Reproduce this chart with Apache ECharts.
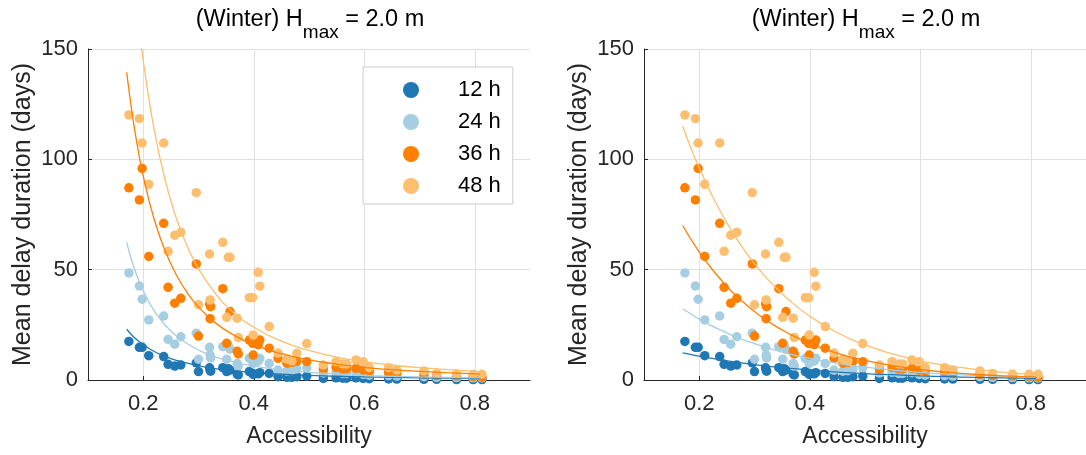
<!DOCTYPE html>
<html>
<head>
<meta charset="utf-8">
<script src="https://cdn.jsdelivr.net/npm/echarts@6/dist/echarts.min.js"></script>
<style>
html,body{margin:0;padding:0;background:#ffffff;}
#chart{width:1086px;height:455px;}
</style>
</head>
<body>
<div id="chart"></div>
<script>
// ---------------- data ----------------
const accessibility = [0.174,0.193,0.198,0.210,0.237,0.245,0.257,0.268,0.296,0.300,0.320,0.321,0.322,0.344,0.351,0.354,0.357,0.370,0.372,0.392,0.398,0.399,0.408,0.411,0.428,0.444,0.460,0.469,0.478,0.496,0.526,0.549,0.561,0.568,0.585,0.598,0.609,0.644,0.659,0.708,0.731,0.767,0.797,0.813];
const delay12h = [17.5,14.8,14.8,11.0,10.6,7.1,6.3,6.8,7.8,3.8,5.5,4.5,4.0,5.6,3.8,5.1,4.5,2.7,2.3,3.8,3.0,2.5,2.8,3.3,3.0,1.5,1.2,1.2,1.5,1.8,0.7,1.0,0.8,0.8,1.0,0.7,0.6,0.5,0.4,0.3,0.3,0.2,0.2,0.2];
const delay24h = [48.5,42.6,36.6,27.2,29.0,18.4,16.2,19.6,21.2,9.4,14.8,11.3,10.0,15.1,9.4,15.4,14.0,7.5,6.3,9.8,9.8,7.5,8.5,9.8,7.5,4.5,4.0,4.2,5.0,5.5,3.2,3.5,3.0,3.0,3.3,2.5,2.2,2.0,1.8,1.5,1.2,1.1,1.0,0.9];
const delay36h = [87.1,81.6,95.9,56.0,71.0,42.0,34.8,37.0,52.6,19.9,34.4,27.8,33.2,41.4,16.6,null,31.0,13.0,11.8,18.1,16.6,11.3,16.0,18.1,14.4,9.8,7.6,8.0,8.5,8.3,4.8,5.7,5.0,5.0,5.3,4.5,4.0,3.5,3.0,2.5,2.0,1.8,1.5,1.3];
const delay48h = [120.1,118.4,107.4,88.7,107.4,58.3,65.6,66.9,84.9,34.1,57.1,36.3,null,62.4,28.4,55.6,55.6,28.0,19.3,37.3,37.3,20.4,48.8,42.5,24.2,12.2,9.4,8.7,12.1,16.5,6.8,8.3,7.3,7.3,9.1,8.3,5.7,5.6,4.5,4.1,3.0,2.7,2.6,2.6];

// fitted curves
const fitX = [0.17,0.18,0.19,0.20,0.22,0.24,0.26,0.28,0.30,0.33,0.36,0.40,0.45,0.50,0.55,0.60,0.65,0.70,0.75,0.81];
// left panel (power-law looking fits)
const fitLeft12h = [23.0,20.2,17.9,16.0,12.9,10.7,8.9,7.6,6.5,5.2,4.3,3.4,2.6,2.1,1.7,1.4,1.2,1.0,0.84,0.71];
const fitLeft24h = [62.4,53.5,46.3,40.4,31.3,24.8,20.0,16.4,13.6,10.5,8.4,6.3,4.6,3.5,2.7,2.1,1.7,1.4,1.2,0.95];
const fitLeft36h = [139.4,120.6,105.2,92.4,72.6,58.3,47.6,39.4,33.1,26.0,20.9,16.0,11.9,9.1,7.2,5.7,4.7,3.9,3.3,2.7];
const fitLeft48h = [221,190.5,165.5,144.8,113.1,90.2,73.2,60.4,50.5,39.4,31.4,23.9,17.6,13.4,10.4,8.3,6.8,5.6,4.7,3.8];
// right panel (exponential looking fits)
const fitRight12h = [12.3,11.8,11.3,10.8,9.9,9.1,8.3,7.6,7.0,6.1,5.4,4.5,3.6,2.9,2.4,1.9,1.5,1.2,1.0,0.77];
const fitRight24h = [32.3,30.7,29.1,27.6,24.9,22.5,20.2,18.2,16.5,14.1,12.0,9.8,7.5,5.8,4.5,3.5,2.7,2.1,1.6,1.2];
const fitRight36h = [70,65.8,61.8,58.0,51.2,45.2,39.8,35.2,31.0,25.7,21.3,16.6,12.1,8.9,6.5,4.7,3.5,2.5,1.9,1.3];
const fitRight48h = [115,108.3,102.0,96.1,85.2,75.6,67.0,59.4,52.7,44.0,36.8,28.9,21.4,15.9,11.8,8.7,6.5,4.8,3.5,2.5];

const seriesNames = ['12 h','24 h','36 h','48 h'];
const xTicks = [0.2,0.4,0.6,0.8];
const panelTitle = '(Winter) H{sub|max} = 2.0 m';
const xLabel = 'Accessibility';
const yLabel = 'Mean delay duration (days)';

// ---------------- styling ----------------
const colors = ['#1f78b4','#a6cee3','#ff7f00','#fdbf6f'];
const FONT = 'Liberation Sans, Arial, Helvetica, sans-serif';
const INK = '#262626';
const GRID = '#e0e0e0';

const delays = [delay12h, delay24h, delay36h, delay48h];
const fits = [
  [fitLeft12h, fitLeft24h, fitLeft36h, fitLeft48h],
  [fitRight12h, fitRight24h, fitRight36h, fitRight48h]
];

function pairs(xs, ys) {
  const out = [];
  for (let i = 0; i < xs.length; i++) if (ys[i] != null) out.push([xs[i], ys[i]]);
  return out;
}

const grids = [
  {left: 88, top: 49, width: 442, height: 331},
  {left: 644, top: 49, width: 442, height: 331}
];

const xAxes = [0, 1].map(i => ({
  type: 'value', gridIndex: i, min: 0.1, max: 0.9, interval: 0.1,
  axisLine: {show: true, lineStyle: {color: INK, width: 1}},
  axisTick: {show: true, inside: true, length: 4, customValues: xTicks, lineStyle: {color: INK}},
  axisLabel: {
    customValues: xTicks, fontSize: 22, color: INK, fontFamily: FONT, margin: 13,
    formatter: v => xTicks.some(t => Math.abs(t - v) < 1e-6) ? Number(v).toFixed(1) : ''
  },
  splitLine: {show: false},
  name: xLabel, nameLocation: 'middle', nameGap: 45,
  nameTextStyle: {fontSize: 23, color: INK, fontFamily: FONT}
}));

const yAxes = [0, 1].map(i => ({
  type: 'value', gridIndex: i, min: 0, max: 150, interval: 50,
  axisLine: {show: true, lineStyle: {color: INK, width: 1}},
  axisTick: {show: true, inside: true, length: 4, lineStyle: {color: INK}},
  axisLabel: {fontSize: 22, color: INK, fontFamily: FONT, margin: 10},
  splitLine: {show: true, lineStyle: {color: GRID, width: 1}},
  name: yLabel, nameLocation: 'middle', nameGap: 52, nameRotate: 90,
  nameTextStyle: {fontSize: 25, color: INK, fontFamily: FONT}
}));

const series = [];
[0, 1].forEach(p => {
  // vertical grid lines at the labelled x ticks
  series.push({
    type: 'line', name: 'vgrid' + p, xAxisIndex: p, yAxisIndex: p, data: [], silent: true,
    markLine: {
      silent: true, symbol: 'none', z: 0, animation: false,
      label: {show: false},
      lineStyle: {color: GRID, width: 1, type: 'solid'},
      emphasis: {disabled: true},
      data: xTicks.map(t => ({xAxis: t}))
    }
  });
  seriesNames.forEach((n, k) => {
    series.push({
      type: 'scatter', name: n, xAxisIndex: p, yAxisIndex: p,
      symbol: 'circle', symbolSize: 9.5, z: 2 + k * 0.01,
      itemStyle: {color: colors[k], opacity: 1},
      data: pairs(accessibility, delays[k])
    });
  });
  seriesNames.forEach((n, k) => {
    series.push({
      type: 'line', name: 'fit ' + n + ' ' + p, xAxisIndex: p, yAxisIndex: p,
      showSymbol: false, symbol: 'none', smooth: true, clip: true, z: 3,
      lineStyle: {color: colors[k], width: 1.3},
      data: pairs(fitX, fits[p][k])
    });
  });
});

const titles = [310, 866].map(cx => ({
  text: panelTitle, left: cx, top: -3, textAlign: 'center', padding: 0,
  textStyle: {
    fontSize: 23.5, fontWeight: 'normal', color: '#000000', fontFamily: FONT,
    rich: {sub: {fontSize: 19, fontFamily: FONT, color: '#000000', padding: [26, 0, 0, 0]}}
  }
}));

const option = {
  animation: false,
  backgroundColor: '#ffffff',
  title: titles,
  grid: grids,
  xAxis: xAxes,
  yAxis: yAxes,
  legend: {
    data: seriesNames, orient: 'vertical', left: 363, top: 67,
    icon: 'circle', itemWidth: 16, itemHeight: 16, itemGap: 10,
    padding: [12, 12, 7, 40], backgroundColor: '#ffffff',
    borderColor: '#cccccc', borderWidth: 1, borderRadius: 0,
    selectedMode: false,
    formatter: name => '{t|' + name + '}',
    textStyle: {rich: {t: {fontSize: 22, lineHeight: 22, color: '#000000', fontFamily: FONT, padding: [0, 0, 0, 34]}}}
  },
  series: series
};

const chart = echarts.init(document.getElementById('chart'), null, {renderer: 'canvas'});
chart.setOption(option);
</script>
</body>
</html>
